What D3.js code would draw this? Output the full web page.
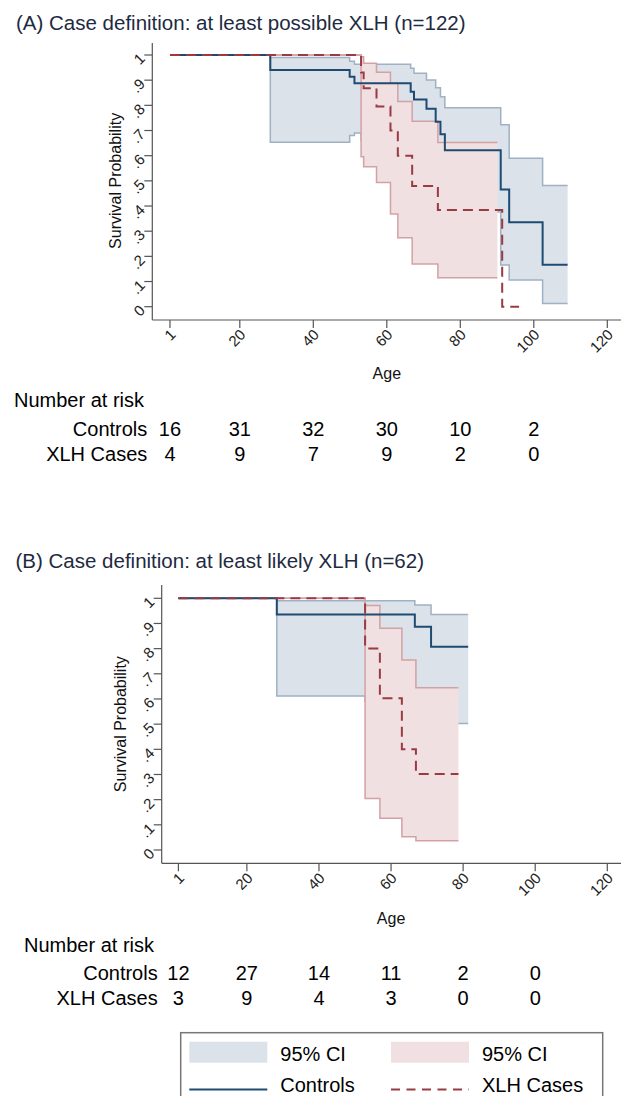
<!DOCTYPE html>
<html>
<head>
<meta charset="utf-8">
<script src="https://d3js.org/d3.v7.min.js"></script>
<style>
  body { margin: 0; background: #fff; font-family: "Liberation Sans", Arial, sans-serif; }
  svg text { font-family: "Liberation Sans", Arial, sans-serif; }
</style>
</head>
<body>
<div id="chart"></div>
<script>
// axis ticks and risk table columns
const ageTicks = [1, 20, 40, 60, 80, 100, 120];
const probTicks = [0, .1, .2, .3, .4, .5, .6, .7, .8, .9, 1];
const riskAges = [1, 20, 40, 60, 80, 100];

// (A) controls: KM estimate with 95% CI (step after each time)
const ctrlA_t  = [1, 28.3, 49.9, 51.2, 53, 66.5, 67.4, 70.8, 73.3, 74.6, 75.8, 91, 93.3, 102.4, 109.2];
const ctrlA_s  = [1, .94, .914, .888, .888, .854, .823, .786, .735, .685, .622, .466, .336, .167, .167];
const ctrlA_hi = [1, .99, .975, .963, .963, .947, .927, .901, .870, .834, .790, .723, .590, .482, .482];
const ctrlA_lo = [1, .653, .68, .69, .66, .62, .58, .54, .50, .46, .376, .166, .106, .013, .013];

// (A) XLH cases
const xlhA_t   = [1, 53, 53.7, 57.2, 61, 63, 66.9, 73.9, 91.4, 96];
const xlhA_s   = [1, .93, .868, .795, .70, .60, .48, .384, 0, 0];
const xlhA_ciT = [1, 53, 53.7, 57.2, 61, 63, 66.9, 73.9, 90.1];
const xlhA_hi  = [1, .993, .967, .931, .888, .815, .737, .652, .652];
const xlhA_lo  = [1, .596, .556, .493, .368, .274, .170, .115, .115];

// (B) controls
const ctrlB_t  = [1, 28.3, 52.8, 66.6, 71.1, 81.4];
const ctrlB_s  = [1, .936, .936, .887, .808, .808];
const ctrlB_hi = [1, .99, .99, .973, .936, .936];
const ctrlB_lo = [1, .612, .59, .55, .503, .503];

// (B) XLH cases
const xlhB_t  = [1, 52.8, 56.9, 63, 66.9, 78.7];
const xlhB_s  = [1, .801, .603, .40, .302, .302];
const xlhB_hi = [1, .971, .881, .755, .645, .645];
const xlhB_lo = [1, .205, .126, .053, .037, .037];

// number at risk
const riskA_ctrl = [16, 31, 32, 30, 10, 2];
const riskA_xlh  = [4, 9, 7, 9, 2, 0];
const riskB_ctrl = [12, 27, 14, 11, 2, 0];
const riskB_xlh  = [3, 9, 4, 3, 0, 0];

const titles = ["(A) Case definition: at least possible XLH (n=122)",
                "(B) Case definition: at least likely XLH (n=62)"];
const rowNames = ["Controls", "XLH Cases"];

const navy = "#1f4b73", navyCI = "#9fb1c3", navyFill = "#dbe2ea";
const maroon = "#9a3a42", maroonCI = "#d3a1a5", maroonFill = "#f0e0e1";

const W = 627, H = 1096;
const svg = d3.select("#chart").append("svg")
  .attr("width", W).attr("height", H);

function pts(t, v) { return t.map((d, i) => ({ t: d, v: v[i] })); }
function band(t, lo, hi) { return t.map((d, i) => ({ t: d, lo: lo[i], hi: hi[i] })); }

function fmtProb(d) {
  if (d === 0) return "0";
  if (d === 1) return "1";
  return d3.format(".1f")(d).replace("0.", ".");
}

function drawPanel(p) {
  const g = svg.append("g");
  const x = d3.scaleLinear().domain([0, 120]).range(p.xr);
  const y = d3.scaleLinear().domain([0, 1]).range(p.yr);

  const line = d3.line().x(d => x(d.t)).y(d => y(d.v)).curve(d3.curveStepAfter);
  const area = d3.area().x(d => x(d.t)).y0(d => y(d.lo)).y1(d => y(d.hi)).curve(d3.curveStepAfter);
  const loLine = d3.line().x(d => x(d.t)).y(d => y(d.lo)).curve(d3.curveStepAfter);
  const hiLine = d3.line().x(d => x(d.t)).y(d => y(d.hi)).curve(d3.curveStepAfter);

  // title
  g.append("text").attr("x", p.titleX).attr("y", p.titleY)
    .attr("font-size", 20.5).attr("fill", "#1e2a42").text(p.title);

  // CI bands: controls first, cases drawn on top
  [[p.ctrlBand, navyFill, navyCI], [p.xlhBand, maroonFill, maroonCI]].forEach(([b, fill, stroke]) => {
    g.append("path").attr("d", area(b)).attr("fill", fill);
    g.append("path").attr("d", hiLine(b)).attr("fill", "none").attr("stroke", stroke).attr("stroke-width", 1.5);
    g.append("path").attr("d", loLine(b)).attr("fill", "none").attr("stroke", stroke).attr("stroke-width", 1.5);
  });

  g.append("path").attr("d", line(p.ctrl)).attr("fill", "none")
    .attr("stroke", navy).attr("stroke-width", 2);
  g.append("path").attr("d", line(p.xlh)).attr("fill", "none")
    .attr("stroke", maroon).attr("stroke-width", 2).attr("stroke-dasharray", "10,6");

  // axes
  const axisCol = "#555";
  g.append("line").attr("x1", p.axX).attr("x2", p.axX).attr("y1", p.axTop).attr("y2", p.axY)
    .attr("stroke", axisCol).attr("stroke-width", 1.2);
  g.append("line").attr("x1", p.axX).attr("x2", 621).attr("y1", p.axY).attr("y2", p.axY)
    .attr("stroke", axisCol).attr("stroke-width", 1.2);

  const xt = g.append("g").selectAll("g").data(ageTicks).join("g");
  xt.append("line").attr("x1", d => x(d)).attr("x2", d => x(d))
    .attr("y1", p.axY).attr("y2", p.axY + 8).attr("stroke", axisCol).attr("stroke-width", 1.2);
  xt.append("text")
    .attr("transform", d => `translate(${x(d) + 3},${p.axY + 12}) rotate(-45)`)
    .attr("text-anchor", "end").attr("dy", "0.35em")
    .attr("font-size", 15).attr("fill", "#222").text(d => d);

  const yt = g.append("g").selectAll("g").data(probTicks).join("g");
  yt.append("line").attr("x1", p.axX - 8).attr("x2", p.axX)
    .attr("y1", d => y(d)).attr("y2", d => y(d)).attr("stroke", axisCol).attr("stroke-width", 1.2);
  yt.append("text")
    .attr("transform", d => `translate(${p.axX - 10},${y(d) + 1}) rotate(-45)`)
    .attr("text-anchor", "end").attr("dy", "0.35em")
    .attr("font-size", 15).attr("fill", "#222").text(fmtProb);

  // axis titles
  const yMid = (p.yr[0] + p.yr[1]) / 2;
  g.append("text").attr("transform", `translate(${p.yTitleX},${yMid}) rotate(-90)`)
    .attr("text-anchor", "middle").attr("font-size", 16).attr("fill", "#111")
    .text("Survival Probability");
  g.append("text").attr("x", (p.xr[0] + p.xr[1]) / 2).attr("y", p.ageY)
    .attr("text-anchor", "middle").attr("font-size", 16).attr("fill", "#111").text("Age");

  // number at risk table
  g.append("text").attr("x", p.riskX).attr("y", p.riskY)
    .attr("font-size", 20).attr("fill", "#000").text("Number at risk");
  [p.riskCtrl, p.riskXlh].forEach((row, r) => {
    const by = p.riskY + 28.5 + r * 25;
    g.append("text").attr("x", p.rowRight).attr("y", by).attr("text-anchor", "end")
      .attr("font-size", 20).attr("fill", "#000").text(rowNames[r]);
    g.append("g").selectAll("text").data(row).join("text")
      .attr("x", (d, i) => x(riskAges[i])).attr("y", by)
      .attr("text-anchor", "middle").attr("font-size", 20).attr("fill", "#000")
      .text(d => d);
  });
}

drawPanel({
  title: titles[0], titleX: 16, titleY: 29.5,
  xr: [166.3, 607.3], yr: [306.7, 55],
  axX: 152.3, axY: 320, axTop: 43,
  yTitleX: 120.5, ageY: 378.5,
  ctrl: pts(ctrlA_t, ctrlA_s), xlh: pts(xlhA_t, xlhA_s),
  ctrlBand: band(ctrlA_t, ctrlA_lo, ctrlA_hi), xlhBand: band(xlhA_ciT, xlhA_lo, xlhA_hi),
  riskX: 14, riskY: 407.3, rowRight: 147.3,
  riskCtrl: riskA_ctrl, riskXlh: riskA_xlh
});

drawPanel({
  title: titles[1], titleX: 15.5, titleY: 568.3,
  xr: [174.8, 607.3], yr: [850, 598.3],
  axX: 161.7, axY: 863.3, axTop: 585,
  yTitleX: 126, ageY: 923.8,
  ctrl: pts(ctrlB_t, ctrlB_s), xlh: pts(xlhB_t, xlhB_s),
  ctrlBand: band(ctrlB_t, ctrlB_lo, ctrlB_hi), xlhBand: band(xlhB_t, xlhB_lo, xlhB_hi),
  riskX: 24, riskY: 951.9, rowRight: 157.7,
  riskCtrl: riskB_ctrl, riskXlh: riskB_xlh
});

// legend
const leg = svg.append("g");
leg.append("rect").attr("x", 180.7).attr("y", 1032.7).attr("width", 422).attr("height", 90)
  .attr("fill", "#fff").attr("stroke", "#777").attr("stroke-width", 1.5);
const legItems = [
  { col: 0, row: 0, kind: "fill", color: navyFill, label: "95% CI" },
  { col: 1, row: 0, kind: "fill", color: maroonFill, label: "95% CI" },
  { col: 0, row: 1, kind: "solid", color: navy, label: "Controls" },
  { col: 1, row: 1, kind: "dash", color: maroon, label: "XLH Cases" }
];
legItems.forEach(it => {
  const x0 = 189.3 + it.col * 201.7;
  if (it.kind === "fill") {
    leg.append("rect").attr("x", x0).attr("y", 1041.7).attr("width", 78).attr("height", 21)
      .attr("fill", it.color);
  } else {
    leg.append("line").attr("x1", x0).attr("x2", x0 + 78).attr("y1", 1089.5).attr("y2", 1089.5)
      .attr("stroke", it.color).attr("stroke-width", 2)
      .attr("stroke-dasharray", it.kind === "dash" ? "9,6.5" : null);
  }
  leg.append("text").attr("x", x0 + 91).attr("y", it.row === 0 ? 1060.5 : 1092)
    .attr("font-size", 20).attr("fill", "#000").text(it.label);
});
</script>
</body>
</html>
